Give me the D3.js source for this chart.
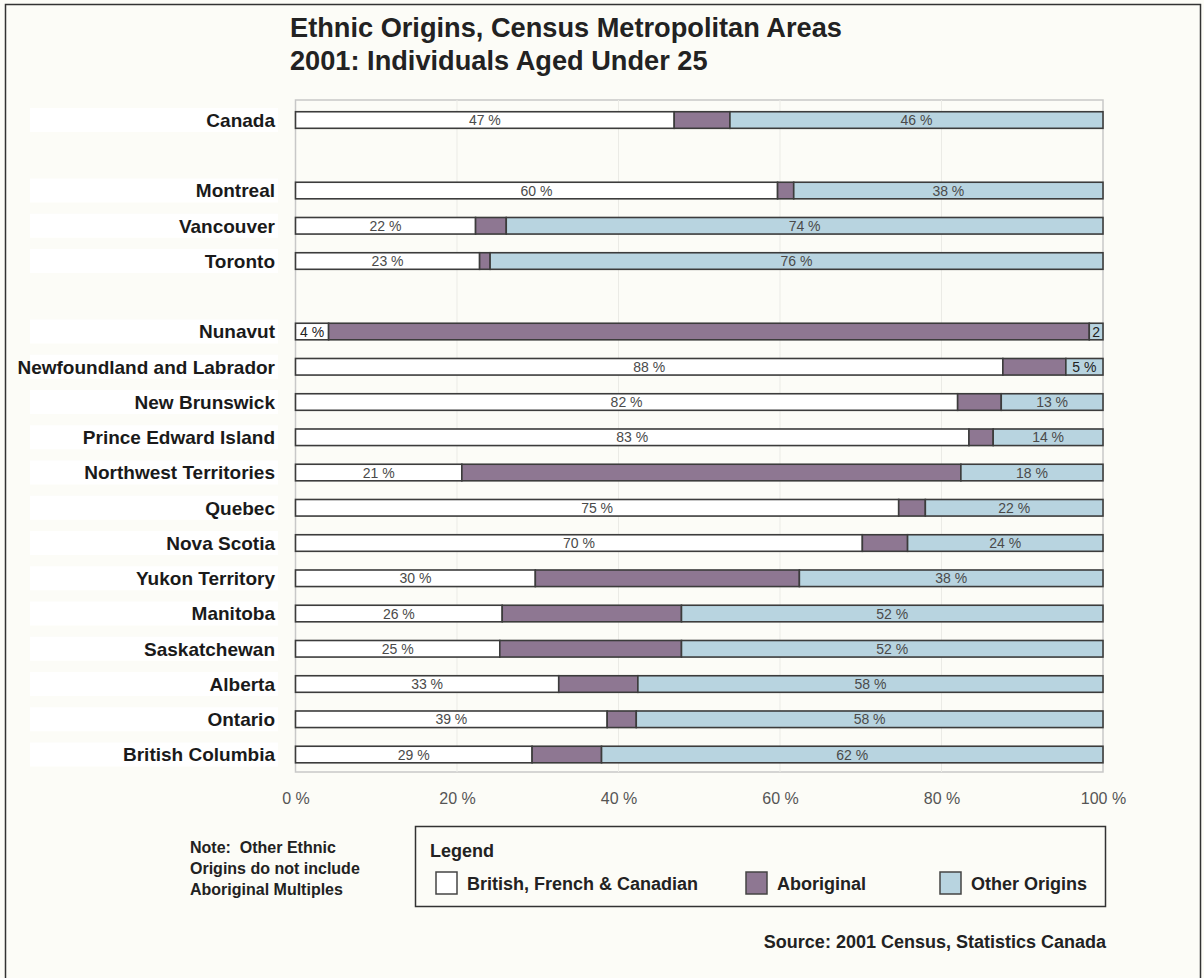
<!DOCTYPE html>
<html>
<head>
<meta charset="utf-8">
<script src="https://cdn.jsdelivr.net/npm/d3@7/dist/d3.min.js"></script>
<style>
  html, body { margin: 0; padding: 0; background: #fcfcf7; }
  svg { display: block; }
</style>
</head>
<body>
<svg id="chart" width="1204" height="978"></svg>
<script>
// ---------- data ----------
const categories = [
  "Canada", "Montreal", "Vancouver", "Toronto",
  "Nunavut", "Newfoundland and Labrador", "New Brunswick", "Prince Edward Island",
  "Northwest Territories", "Quebec", "Nova Scotia", "Yukon Territory",
  "Manitoba", "Saskatchewan", "Alberta", "Ontario", "British Columbia"
];
const gapsAfter = ["Canada", "Toronto"];
const british    = [46.9, 59.7, 22.3, 22.8, 4.1, 87.6, 82.0, 83.4, 20.6, 74.7, 70.2, 29.7, 25.6, 25.3, 32.6, 38.6, 29.3];
const aboriginal = [6.9, 2.0, 3.8, 1.3, 94.2, 7.8, 5.4, 3.0, 61.8, 3.3, 5.6, 32.7, 22.2, 22.5, 9.8, 3.6, 8.6];
const other      = [46.2, 38.3, 73.9, 75.9, 1.7, 4.6, 12.6, 13.6, 17.6, 22.0, 24.2, 37.6, 52.2, 52.2, 57.6, 57.8, 62.1];
const seriesNames = ["British, French & Canadian", "Aboriginal", "Other Origins"];
const seriesColors = ["#ffffff", "#8e7792", "#b8d4e0"];
const xTicks = [0, 20, 40, 60, 80, 100];
const titleLines = ["Ethnic Origins, Census Metropolitan Areas", "2001: Individuals Aged Under 25"];
const noteLines = ["Note:  Other Ethnic", "Origins do not include", "Aboriginal Multiples"];
const sourceText = "Source: 2001 Census, Statistics Canada";

// ---------- layout ----------
const svg = d3.select("#chart");
const W = 1204, H = 978;
const plot = { left: 295.5, right: 1103, top: 100, bottom: 772 };
const font = "'Liberation Sans', Arial, Helvetica, sans-serif";

svg.append("rect").attr("x", 0).attr("y", 0).attr("width", W).attr("height", H).attr("fill", "#fcfcf7");
svg.append("rect").attr("x", 5.5).attr("y", 4.5).attr("width", W - 9).attr("height", H)
  .attr("fill", "none").attr("stroke", "#333").attr("stroke-width", 1.5);

// slots with spacers
const slots = [];
categories.forEach((c, i) => {
  slots.push({ key: c, i });
  if (gapsAfter.includes(c)) slots.push({ key: "gap-" + c, i: -1 });
});

const x = d3.scaleLinear().domain([0, 100]).range([plot.left, plot.right]);
const y = d3.scaleBand().domain(slots.map(s => s.key))
  .range([102.4, 102.4 + slots.length * 35.25]).paddingInner(0.53).paddingOuter(0.265);

// title
svg.append("g").selectAll("text").data(titleLines).join("text")
  .attr("x", 290).attr("y", (d, i) => 37 + i * 33)
  .attr("font-family", font).attr("font-weight", "bold").attr("font-size", 27.2)
  .attr("fill", "#222").text(d => d);

// plot frame & grid
svg.append("rect").attr("x", plot.left).attr("y", plot.top)
  .attr("width", plot.right - plot.left).attr("height", plot.bottom - plot.top)
  .attr("fill", "none").attr("stroke", "#c8c8c8").attr("stroke-width", 1.5);
svg.append("g").selectAll("line").data(xTicks.slice(1, -1)).join("line")
  .attr("x1", d => x(d)).attr("x2", d => x(d)).attr("y1", plot.top).attr("y2", plot.bottom)
  .attr("stroke", "#ebebe6").attr("stroke-width", 1);

// x axis
const xAxis = svg.append("g").attr("transform", `translate(0,${plot.bottom + 18})`)
  .call(d3.axisBottom(x).tickValues(xTicks).tickSize(0).tickFormat(d => d + " %"));
xAxis.select(".domain").remove();
xAxis.selectAll("text").attr("font-family", font).attr("font-size", 16).attr("fill", "#555");

// category labels with white backing
const rows = slots.filter(s => s.i >= 0);
const labG = svg.append("g");
labG.selectAll("rect").data(rows).join("rect")
  .attr("x", 30).attr("width", 248)
  .attr("y", d => y(d.key) + y.bandwidth() / 2 - 12).attr("height", 24)
  .attr("fill", "#ffffff");
labG.selectAll("text").data(rows).join("text")
  .attr("x", 275).attr("y", d => y(d.key) + y.bandwidth() / 2)
  .attr("dy", "0.36em").attr("text-anchor", "end")
  .attr("font-family", font).attr("font-weight", "bold").attr("font-size", 19)
  .attr("fill", "#1a1a1a").text(d => d.key);

// stacked bars
const seriesData = [british, aboriginal, other];
const segs = [];
rows.forEach(r => {
  let acc = 0;
  seriesData.forEach((arr, s) => {
    const v = arr[r.i];
    segs.push({ key: r.key, s, x0: acc, x1: acc + v, v });
    acc += v;
  });
});
const barG = svg.append("g");
barG.selectAll("rect").data(segs).join("rect")
  .attr("x", d => x(d.x0)).attr("width", d => x(d.x1) - x(d.x0))
  .attr("y", d => y(d.key)).attr("height", y.bandwidth())
  .attr("fill", d => seriesColors[d.s]).attr("stroke", "#3c3c3c").attr("stroke-width", 1.6);

barG.selectAll("text").data(segs.filter(d => d.s !== 1)).join("text")
  .attr("x", d => (x(d.x0) + x(d.x1)) / 2)
  .attr("y", d => y(d.key) + y.bandwidth() / 2).attr("dy", "0.36em")
  .attr("text-anchor", "middle").attr("font-family", font).attr("font-size", 14)
  .attr("fill", d => (x(d.x1) - x(d.x0)) < 40 ? "#222" : "#4a4a4a")
  .text(d => (x(d.x1) - x(d.x0)) < 20 ? Math.round(d.v) : Math.round(d.v) + " %");

// note
svg.append("g").selectAll("text").data(noteLines).join("text")
  .attr("x", 190).attr("y", (d, i) => 853 + i * 21)
  .attr("font-family", font).attr("font-weight", "bold").attr("font-size", 16)
  .attr("fill", "#222").style("white-space", "pre").text(d => d);

// legend
const lg = svg.append("g");
lg.append("rect").attr("x", 415.5).attr("y", 826.5).attr("width", 690).attr("height", 80)
  .attr("fill", "#fcfcf7").attr("stroke", "#333").attr("stroke-width", 1.5);
lg.append("text").attr("x", 430).attr("y", 857).text("Legend")
  .attr("font-family", font).attr("font-weight", "bold").attr("font-size", 18).attr("fill", "#222");
const legX = [436, 746, 940];
const items = lg.selectAll("g.item").data(seriesNames).join("g").attr("class", "item")
  .attr("transform", (d, i) => `translate(${legX[i]},872)`);
items.append("rect").attr("width", 21).attr("height", 22)
  .attr("fill", (d, i) => seriesColors[i]).attr("stroke", "#444").attr("stroke-width", 1.5);
items.append("text").attr("x", 31).attr("y", 17.5).text(d => d)
  .attr("font-family", font).attr("font-weight", "bold").attr("font-size", 18).attr("fill", "#222");

// source
svg.append("text").attr("x", 1106).attr("y", 948).attr("text-anchor", "end")
  .attr("font-family", font).attr("font-weight", "bold").attr("font-size", 18)
  .attr("fill", "#222").text(sourceText);
</script>
</body>
</html>
